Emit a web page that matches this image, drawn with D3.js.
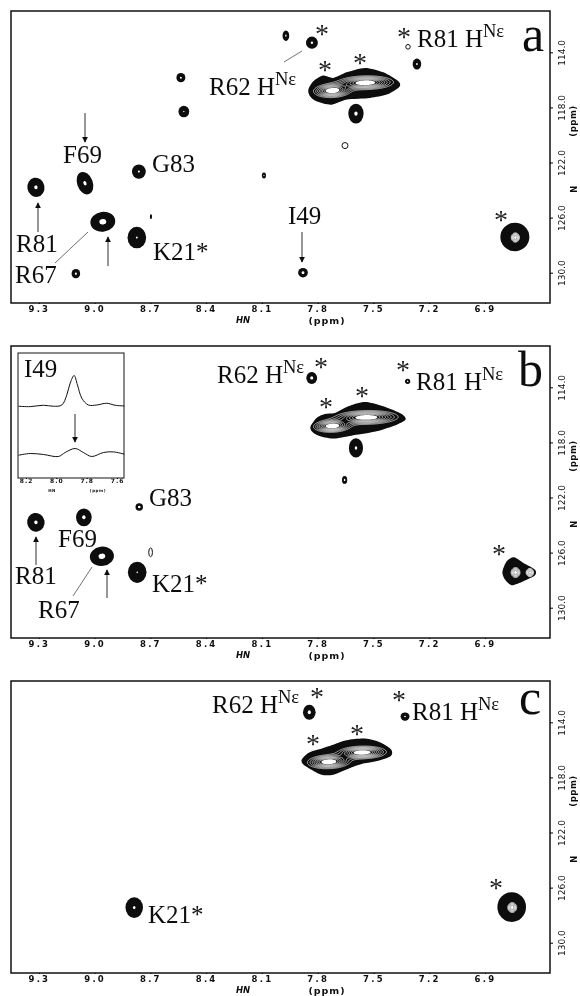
<!DOCTYPE html>
<html>
<head>
<meta charset="utf-8">
<script src="https://cdn.jsdelivr.net/npm/d3@7"></script>
<style>
html, body { margin: 0; padding: 0; background: #fff; }
svg { display: block; }
.lab { font-family: "Liberation Serif", serif; font-size: 25px; fill: #111; }
.tick text, .unit { font-family: "DejaVu Sans", sans-serif; font-size: 8.5px; font-weight: bold; fill: #111; letter-spacing: 2.2px; }
.yax .tick text { letter-spacing: 0; font-weight: normal; font-size: 9px; }
</style>
</head>
<body>
<svg id="fig" width="580" height="996"></svg>
<script>
// values
const hnTicks = [9.3, 9.0, 8.7, 8.4, 8.1, 7.8, 7.5, 7.2, 6.9];
const nTicks = [114, 118, 122, 126, 130];
const insetTicks = [8.2, 8.0, 7.8, 7.6];

// peak: hn, n, half width hn, half width n, tilt, core size (0 = open contour)
const peaksA = [
    [7.971, 112.79, 0.018, 0.38, 0, 0.2],
    [7.831, 113.30, 0.032, 0.44, 0, 0.2],
    [8.536, 115.84, 0.024, 0.34, 0, 0.22],
    [8.520, 118.30, 0.029, 0.42, 0, 0.12],
    [7.266, 114.85, 0.023, 0.40, 0, 0.2],
    [7.314, 113.60, 0.012, 0.17, 0, 0],
    [7.594, 118.45, 0.041, 0.72, 0, 0.22],
    [7.653, 120.77, 0.016, 0.22, 0, 0],
    [8.089, 122.95, 0.011, 0.22, 0, 0.25],
    [8.762, 122.66, 0.037, 0.52, 0, 0.15],
    [9.052, 123.50, 0.042, 0.84, -20, 0.2],
    [9.316, 123.80, 0.046, 0.70, -10, 0.2],
    [8.956, 126.30, 0.067, 0.72, -8, 0.28],
    [8.773, 127.45, 0.050, 0.78, 0, 0.1],
    [8.697, 125.93, 0.006, 0.17, 0, 0.01],
    [9.101, 130.07, 0.023, 0.34, 0, 0.25],
    [7.879, 130.00, 0.026, 0.35, 0, 0.3],
    [6.739, 127.41, 0.078, 1.03, 0, 0.01]
];
const peaksB = [
    [9.316, 123.80, 0.047, 0.68, -10, 0.2],
    [9.058, 123.44, 0.042, 0.65, 0, 0.22],
    [8.961, 126.27, 0.065, 0.70, -8, 0.28],
    [8.771, 127.43, 0.050, 0.77, 0, 0.08],
    [8.760, 122.69, 0.020, 0.27, 0, 0.35],
    [8.699, 125.98, 0.010, 0.32, 0, 0],
    [7.832, 113.32, 0.029, 0.43, 0, 0.28],
    [7.316, 113.56, 0.014, 0.19, 0, 0.3],
    [7.594, 118.40, 0.038, 0.70, 0, 0.18],
    [7.655, 120.72, 0.014, 0.29, 0, 0.3]
];
const peaksC = [
    [8.787, 127.45, 0.047, 0.75, 0, 0.15],
    [7.845, 113.27, 0.034, 0.55, 0, 0.25],
    [7.330, 113.58, 0.024, 0.30, 0, 0.2],
    [6.756, 127.41, 0.077, 1.08, 0, 0.01]
];

// outlines of the strong side chain peaks
const ridgeA = [[7.850,116.71],[7.823,116.10],[7.770,115.69],[7.716,115.86],[7.644,115.45],[7.545,115.13],[7.447,115.45],[7.366,116.10],[7.361,116.51],[7.429,117.07],[7.519,117.31],[7.644,117.43],[7.725,117.80],[7.806,117.55],[7.841,117.19]];
const ridgeB = [[7.838,116.83],[7.806,116.22],[7.761,115.93],[7.707,115.86],[7.635,115.37],[7.545,115.06],[7.447,115.37],[7.348,115.93],[7.327,116.34],[7.375,116.71],[7.483,117.19],[7.608,117.48],[7.716,117.72],[7.797,117.50],[7.832,117.19]];
const ridgeC = [[7.886,116.71],[7.850,116.22],[7.797,115.98],[7.716,115.62],[7.644,115.30],[7.545,115.18],[7.465,115.45],[7.405,115.98],[7.405,116.42],[7.465,116.75],[7.563,117.02],[7.626,117.31],[7.716,117.80],[7.779,117.80],[7.841,117.38],[7.877,117.07]];
const tailB = [[6.806,127.41],[6.783,126.63],[6.744,126.34],[6.693,126.75],[6.631,127.24],[6.631,127.65],[6.693,128.08],[6.756,128.37],[6.792,127.96]];

// contour stacks: hn, n, reach hn, reach n, tilt
const stacksA = [[7.725,116.75,0.100,0.50,-2],[7.545,116.17,0.150,0.50,-1],[6.739,127.41,0.022,0.34,0]];
const stacksB = [[7.725,116.78,0.100,0.45,-2],[7.540,116.15,0.170,0.50,-1],[6.738,127.41,0.024,0.36,0],[6.661,127.41,0.020,0.30,0]];
const stacksC = [[7.743,116.83,0.115,0.50,-2],[7.563,116.15,0.130,0.46,-1],[6.756,127.41,0.024,0.36,0]];

// inset trace, I49 slices
const sliceHn = [8.25,8.173,8.085,8.019,7.964,7.931,7.909,7.883,7.861,7.832,7.789,7.734,7.668,7.613,7.551];
const sliceTop = [57.4,57.1,58.2,57.4,58.4,66.5,75.9,82,74.5,63.8,58.4,58.4,59.8,58.2,57.6];
const slice2Hn = [8.25,8.173,8.085,7.986,7.942,7.876,7.822,7.767,7.69,7.624,7.551];
const sliceLow = [18.2,19.6,18.8,17.2,20.4,23.6,20.4,17.2,20.4,20.9,19];

// annotations, panel pixels
const labelsA = [["F69",63,163],["G83",152,172],["R81",16,252],["R67",15,283],["K21*",153,260],["I49",288,224]];
const labelsB = [["G83",149,171],["F69",58,212],["R81",15,249],["R67",38,283],["K21*",152,257]];
const labelsC = [["K21*",148,253]];
const hneA = [["R62",209,95],["R81",417,47]];
const hneB = [["R62",217,48],["R81",416,55]];
const hneC = [["R62",212,43],["R81",412,50]];
const starsA = [[322,30],[404,33],[325,66],[360,59],[501,216]];
const starsB = [[321,28],[403,31],[326,68],[362,57],[499,215]];
const starsC = [[317,23],[399,26],[313,70],[357,60],[496,214]];
const arrowsA = [[85,113,142],[38,232,203],[108,266,237],[302,232,262]];
const arrowsB = [[36,230,202],[107,263,235]];
const leadersA = [[88,232,55,263],[302,51,284,62]];
const leadersB = [[92,232,73,261]];

const svg = d3.select("#fig");
const x = d3.scaleLinear().domain([9.45, 6.55]).range([11, 550]);
const y = d3.scaleLinear().domain([111, 132.2]).range([11, 303]);
const outline = d3.line().x(d => x(d[0])).y(d => y(d[1])).curve(d3.curveCardinalClosed.tension(0.2));

const defs = svg.append("defs");
defs.append("marker")
    .attr("id", "head").attr("viewBox", "0 0 8 8").attr("refX", 7).attr("refY", 4)
    .attr("markerWidth", 6).attr("markerHeight", 7).attr("markerUnits", "userSpaceOnUse").attr("orient", "auto")
    .append("path").attr("d", "M0,0L8,4L0,8Z").attr("fill", "#111");
// the figure is a scan, everything is a little soft
defs.append("filter").attr("id", "scan").append("feGaussianBlur").attr("stdDeviation", 0.3);

function drawPeaks(g, peaks) {
    peaks.forEach(p => {
        const rx = Math.abs(x(p[0] + p[2]) - x(p[0]));
        const ry = Math.abs(y(p[1] + p[3]) - y(p[1]));
        const pk = g.append("g").attr("transform", `translate(${x(p[0])},${y(p[1])}) rotate(${p[4]})`);
        if (p[5] === 0) {
            pk.append("ellipse").attr("rx", rx).attr("ry", ry)
                .attr("fill", "#fff").attr("stroke", "#111").attr("stroke-width", 1);
        } else {
            pk.append("ellipse").attr("rx", rx).attr("ry", ry).attr("fill", "#080808");
            pk.append("ellipse").attr("rx", rx * p[5]).attr("ry", ry * p[5]).attr("fill", "#fff");
        }
    });
}

// merged contour rings for the strong peaks, from their centres and reach
function drawStacks(g, stacks) {
    const w = 580, h = 320;
    const shapes = stacks.map(s => {
        const a = s[4] * Math.PI / 180;
        return {
            cx: x(s[0]), cy: y(s[1]),
            sx: Math.abs(x(s[0] + s[2]) - x(s[0])) / 1.79,
            sy: Math.abs(y(s[1] + s[3]) - y(s[1])) / 1.79,
            cos: Math.cos(a), sin: Math.sin(a)
        };
    });
    const field = new Float64Array(w * h);
    for (let j = 0; j < h; j++) {
        for (let i = 0; i < w; i++) {
            let v = 0;
            shapes.forEach(s => {
                const dx = i - s.cx, dy = j - s.cy;
                const u = (dx * s.cos + dy * s.sin) / s.sx;
                const t = (-dx * s.sin + dy * s.cos) / s.sy;
                v += Math.exp(-0.5 * (u * u + t * t));
            });
            field[j * w + i] = v;
        }
    }
    const levels = d3.range(0.2, 0.82, 0.09);
    const rings = d3.contours().size([w, h]).thresholds(levels)(field);
    const path = d3.geoPath();
    g.selectAll(null).data(rings).join("path")
        .attr("d", path)
        .attr("fill", "none").attr("stroke", "#fff").attr("stroke-width", 0.65);
    const core = d3.contours().size([w, h]).thresholds([0.82])(field);
    g.selectAll(null).data(core).join("path").attr("d", path).attr("fill", "#fff");
}

function drawPanel(offset, letter, ltrPos, peaks, ridges, stacks, labels, hne, stars, arrows, leaders) {
    const g = svg.append("g").attr("transform", `translate(0,${offset})`).attr("filter", "url(#scan)");

    g.append("rect").attr("x", x.range()[0]).attr("y", y.range()[0])
        .attr("width", x.range()[1] - x.range()[0]).attr("height", y.range()[1] - y.range()[0])
        .attr("fill", "none").attr("stroke", "#111").attr("stroke-width", 1.5);

    const xAxis = g.append("g").attr("transform", `translate(0,${y.range()[1]})`)
        .call(d3.axisBottom(x).tickValues(hnTicks).tickFormat(d3.format(".1f")).tickSize(1).tickSizeOuter(0));
    xAxis.select(".domain").remove();
    xAxis.selectAll("text").attr("y", 3);

    const yAxis = g.append("g").attr("class", "yax").attr("transform", `translate(${x.range()[1]},0)`)
        .call(d3.axisRight(y).tickValues(nTicks).tickFormat(d3.format(".1f")).tickSize(3).tickSizeOuter(0));
    yAxis.select(".domain").remove();
    yAxis.selectAll("text")
        .attr("x", 0).attr("dy", 0).attr("y", 0)
        .attr("text-anchor", "middle").attr("dominant-baseline", "middle")
        .attr("transform", "translate(12,0) rotate(-90)");

    g.append("text").attr("class", "unit").attr("x", 243).attr("y", 323).attr("text-anchor", "middle")
        .style("font-style", "italic").style("letter-spacing", "0").text("HN");
    g.append("text").attr("class", "unit").attr("x", 327).attr("y", 324).attr("text-anchor", "middle")
        .style("font-size", "9.5px").style("letter-spacing", "1px").text("(ppm)");
    g.append("text").attr("class", "unit").attr("text-anchor", "middle").attr("dominant-baseline", "middle")
        .attr("transform", "translate(573,121) rotate(-90)").style("letter-spacing", "0.5px").text("(ppm)");
    g.append("text").attr("class", "unit").attr("text-anchor", "middle").attr("dominant-baseline", "middle")
        .attr("transform", "translate(574,188) rotate(-90)").text("N");

    ridges.forEach(r => g.append("path").attr("d", outline(r)).attr("fill", "#080808"));
    drawPeaks(g, peaks);
    drawStacks(g, stacks);

    labels.forEach(l => g.append("text").attr("class", "lab").attr("x", l[1]).attr("y", l[2]).text(l[0]));
    hne.forEach(l => {
        const t = g.append("text").attr("class", "lab").attr("x", l[1]).attr("y", l[2]);
        t.append("tspan").text(l[0] + " H");
        t.append("tspan").attr("font-size", 18.5).attr("dy", -10).text("Nε");
    });
    g.append("text").attr("class", "lab").attr("x", ltrPos[0]).attr("y", ltrPos[1])
        .style("font-size", "50px").text(letter);

    stars.forEach(s => g.append("text").attr("class", "lab").attr("x", s[0]).attr("y", s[1] + 13)
        .attr("text-anchor", "middle").style("font-size", "28px").style("fill", "#222").text("*"));

    arrows.forEach(a => g.append("line").attr("x1", a[0]).attr("x2", a[0]).attr("y1", a[1]).attr("y2", a[2])
        .attr("stroke", "#111").attr("stroke-width", 0.9).attr("marker-end", "url(#head)"));
    leaders.forEach(l => g.append("line").attr("x1", l[0]).attr("y1", l[1]).attr("x2", l[2]).attr("y2", l[3])
        .attr("stroke", "#333").attr("stroke-width", 0.7));
    return g;
}

drawPanel(0, "a", [522, 51], peaksA, [ridgeA], stacksA, labelsA, hneA, starsA, arrowsA, leadersA);
const panelB = drawPanel(335, "b", [518, 51], peaksB, [ridgeB, tailB], stacksB, labelsB, hneB, starsB, arrowsB, leadersB);
drawPanel(670, "c", [519, 44], peaksC, [ridgeC], stacksC, labelsC, hneC, starsC, [], []);

// inset in panel b
const ix = d3.scaleLinear().domain([8.253, 7.554]).range([18, 124]);
const iy = d3.scaleLinear().domain([0, 100]).range([143, 18]);
const inset = panelB.append("g");
inset.append("rect").attr("x", 18).attr("y", 18).attr("width", 106).attr("height", 125)
    .attr("fill", "#fff").attr("stroke", "#111").attr("stroke-width", 1);
const insetLine = d3.line().x(d => ix(d[0])).y(d => iy(d[1])).curve(d3.curveCatmullRom);
inset.append("path").attr("d", insetLine(d3.zip(sliceHn, sliceTop)))
    .attr("fill", "none").attr("stroke", "#111").attr("stroke-width", 1);
inset.append("path").attr("d", insetLine(d3.zip(slice2Hn, sliceLow)))
    .attr("fill", "none").attr("stroke", "#111").attr("stroke-width", 1);
const insetAxis = inset.append("g").attr("transform", "translate(0,143)")
    .call(d3.axisBottom(ix).tickValues(insetTicks).tickFormat(d3.format(".1f")).tickSize(1).tickSizeOuter(0));
insetAxis.select(".domain").remove();
insetAxis.selectAll("text").attr("y", 1).style("font-size", "6px").style("letter-spacing", "1px");
inset.append("text").attr("class", "unit").attr("x", 52).attr("y", 157).attr("text-anchor", "middle")
    .style("font-size", "4px").style("letter-spacing", "0.3px").text("HN");
inset.append("text").attr("class", "unit").attr("x", 98).attr("y", 157).attr("text-anchor", "middle")
    .style("font-size", "4px").style("letter-spacing", "0.6px").text("(ppm)");
inset.append("text").attr("class", "lab").attr("x", 24).attr("y", 42).text("I49");
inset.append("line").attr("x1", 75).attr("x2", 75).attr("y1", 79).attr("y2", 107)
    .attr("stroke", "#111").attr("stroke-width", 0.9).attr("marker-end", "url(#head)");
</script>
</body>
</html>
